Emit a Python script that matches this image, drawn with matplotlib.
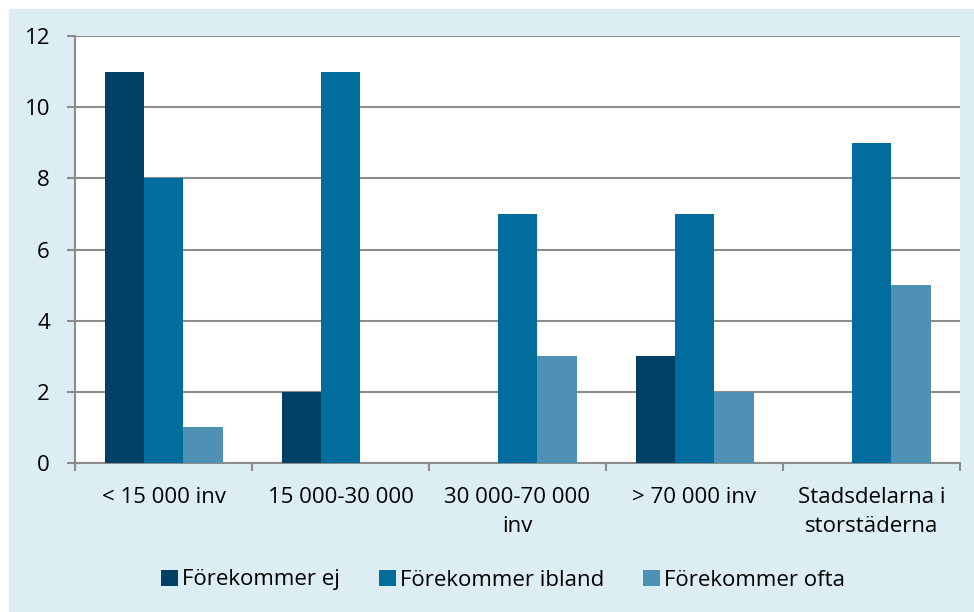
import matplotlib
matplotlib.use("Agg")
import matplotlib.pyplot as plt
import numpy as np
from matplotlib.patches import Rectangle

categories = ["< 15 000 inv", "15 000-30 000", "30 000-70 000\ninv", "> 70 000 inv", "Stadsdelarna i\nstorstäderna"]
series_names = ["Förekommer ej", "Förekommer ibland", "Förekommer ofta"]
ej = [11, 2, 0, 3, 0]
ibland = [8, 11, 7, 7, 9]
ofta = [1, 0, 3, 2, 5]
colors = ["#004064", "#006D9C", "#4E91B5"]
yticks = [0, 2, 4, 6, 8, 10, 12]

plt.rcParams['font.family'] = ['Open Sans', 'DejaVu Sans']
FS = 16

W, H = 974, 612
fig = plt.figure(figsize=(W/100, H/100), dpi=100, facecolor="white")
fig.patches.append(Rectangle((9/W, 0), 1 - 9/W, 1 - 9/H, transform=fig.transFigure,
                             facecolor="#DDEDF4", edgecolor="none", zorder=-10))

ax = fig.add_axes([75/W, 1 - 463/H, (960-75)/W, (463-36)/H])
ax.set_zorder(1)
ax.set_facecolor("white")
n = len(categories)
x = np.arange(n)
bw = 1/4.5
for i, (vals, c, name) in enumerate(zip([ej, ibland, ofta], colors, series_names)):
    ax.bar(x + (i-1)*bw, vals, width=bw, color=c, label=name, zorder=3, edgecolor="none")

ax.set_xlim(-0.5, n-0.5)
ax.set_ylim(0, 12)
ax.set_yticks(yticks)
ax.set_yticklabels([str(v) for v in yticks], fontsize=FS)
ax.yaxis.grid(True, color="#8C8C8C", linewidth=1.5, zorder=1)
ax.set_axisbelow(True)
for s in ["top", "right"]:
    ax.spines[s].set_visible(False)
for s in ["left", "bottom"]:
    ax.spines[s].set_color("#8C8C8C")
    ax.spines[s].set_linewidth(1.5)
ax.tick_params(axis="y", length=6, width=1.5, color="#8C8C8C", pad=12, labelcolor="black")

ax.set_xticks(np.arange(n+1) - 0.5)
ax.set_xticklabels([])
ax.tick_params(axis="x", length=6, width=1.5, color="#8C8C8C")
for xi, lab in zip(x, categories):
    ax.text(xi, -0.68, lab, ha="center", va="top", fontsize=FS,
            transform=ax.transData, linespacing=1.5)

handles, labels = ax.get_legend_handles_labels()
leg_x = [161, 379, 643]
for h, l, lx in zip(handles, labels, leg_x):
    fig.legend([h], [l], loc="center left", bbox_to_anchor=(lx/W, 1 - 580/H),
               frameon=False, fontsize=FS, handlelength=0.75, handleheight=0.75,
               handletextpad=0.2, borderaxespad=0, borderpad=0)

fig.savefig("out.png", dpi=100, facecolor="white")
